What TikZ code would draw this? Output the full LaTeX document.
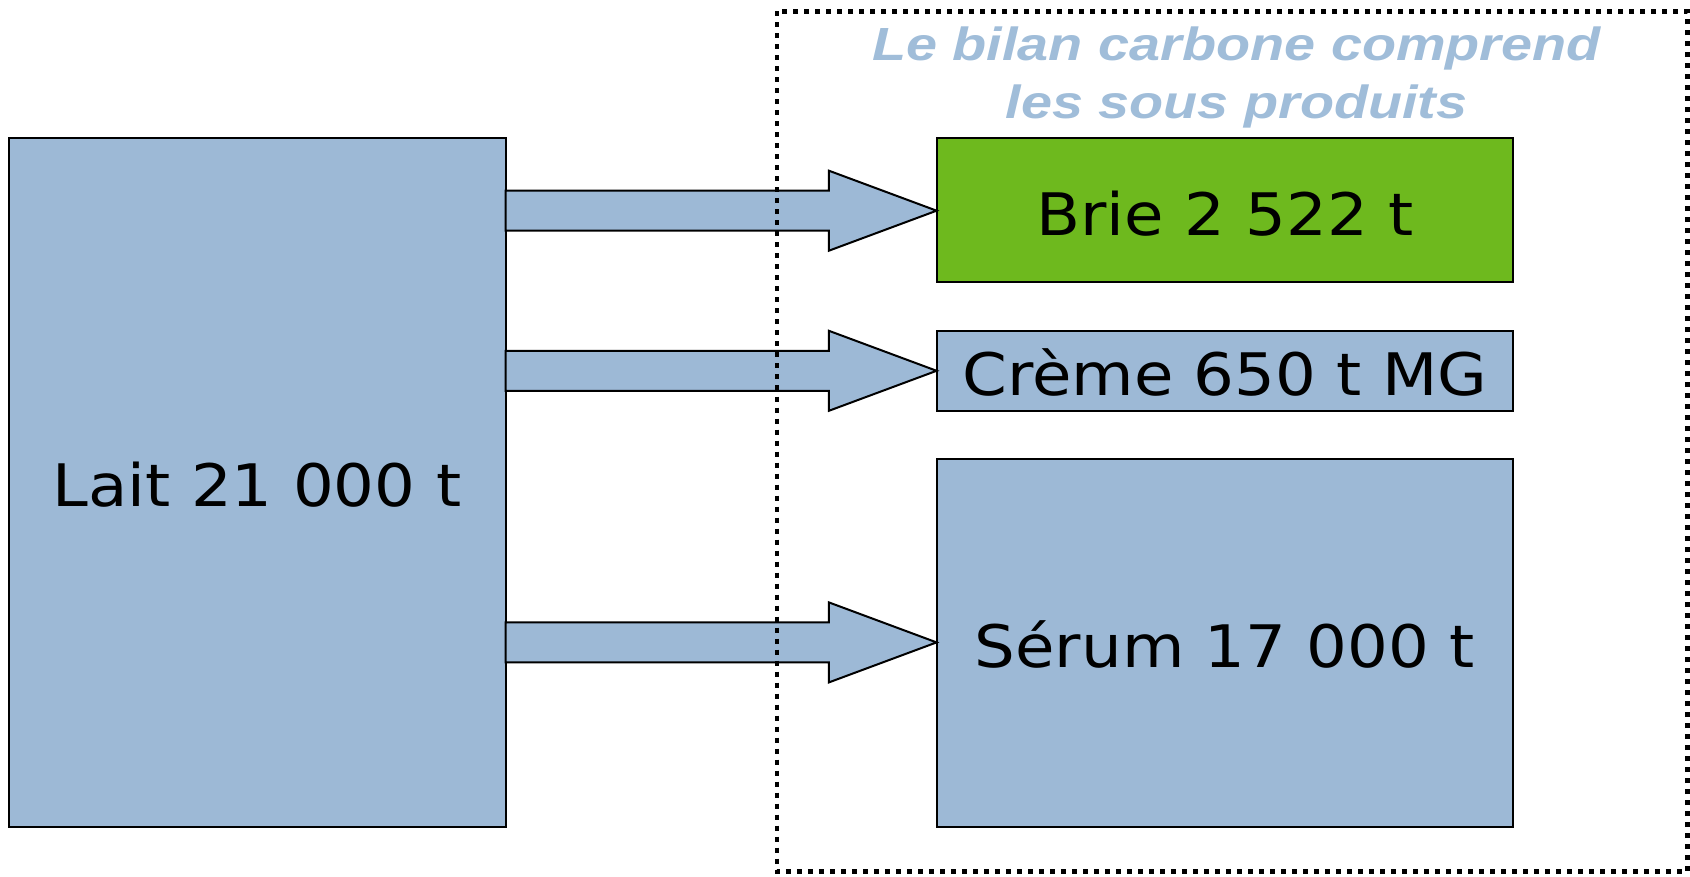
\documentclass[tikz,border=0pt]{standalone}
\usepackage{fontspec}
\usetikzlibrary{calc}
\newfontfamily\boxfont[FakeStretch=1.095]{DejaVu Sans}
\newfontfamily\titlefont[FakeStretch=1.2]{Liberation Sans}
\definecolor{boxblue}{RGB}{157,185,214}
\definecolor{titleblue}{RGB}{160,189,217}
\definecolor{briegreen}{RGB}{110,185,30}
\tikzset{
  blockbox/.style={draw=black, line width=2pt, fill=boxblue, inner sep=0pt, outer sep=0pt},
  lbl/.style={font=\boxfont\fontsize{58.6}{60}\selectfont, text=black, inner sep=0pt, anchor=base},
  ttl/.style={font=\titlefont\bfseries\itshape\fontsize{46.5}{50}\selectfont, text=titleblue, inner sep=0pt, anchor=base},
  blockarrow/.style={draw=black, line width=2pt, fill=boxblue, line join=miter},
  dotframe/.style={draw=black, line width=4.8pt, dash pattern=on 5pt off 6pt}
}
\begin{document}
\begin{tikzpicture}[x=1pt,y=-1pt]
\useasboundingbox (0,0) rectangle (1690,877);
% boxes
\node[blockbox, minimum width=497pt, minimum height=688.7pt] (lait) at (257,482.4) {};
\node[blockbox, fill=briegreen, minimum width=576.6pt, minimum height=144.4pt] (brie) at (1224.9,210.2) {};
\node[blockbox, minimum width=576.6pt, minimum height=79.7pt] (creme) at (1224.9,370.75) {};
\node[blockbox, minimum width=576.6pt, minimum height=367.7pt] (serum) at (1224.9,642.85) {};
% labels
\node[lbl] (laitT) at ($(lait.center)+(0,24.3)$) {Lait 21 000 t};
\node[lbl] (brieT) at ($(brie.center)+(0,25)$) {Brie 2 522 t};
\node[lbl] (cremeT) at ($(creme.center)+(0,24.5)$) {Crème 650 t MG};
\node[lbl] (serumT) at ($(serum.center)+(0,25)$) {Sérum 17 000 t};
% block arrows
\foreach \t/\yc in {brie/210.7, creme/370.8, serum/642.4}{
  \coordinate (tip) at (\t.west |- 0,\yc);
  \coordinate (base) at (lait.east |- 0,\yc);
  \draw[blockarrow] ($(base)+(0,-20)$) -- ($(tip)+(-107.7,-20)$) -- ($(tip)+(-107.7,-40)$)
     -- (tip) -- ($(tip)+(-107.7,40)$) -- ($(tip)+(-107.7,20)$) -- ($(base)+(0,20)$) -- cycle;
}
% title
\node[ttl] (title1) at (1236.5,61) {Le bilan carbone comprend};
\node[ttl] (title2) at (1236.5,118.3) {les sous produits};
% dotted frame
\coordinate (frameNW) at (777,11.5);
\coordinate (frameSE) at (1687.4,871.6);
\draw[dotframe] (frameNW) rectangle (frameSE);
\end{tikzpicture}
\end{document}
